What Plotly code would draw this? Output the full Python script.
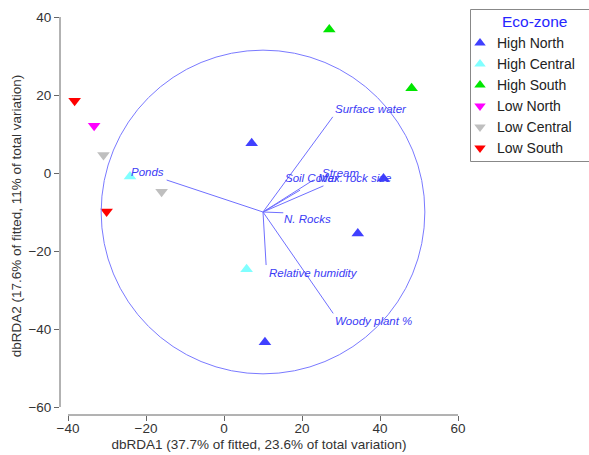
import plotly.graph_objects as go

# ---- data ----
GROUPS = ["High North", "High Central", "High South", "Low North", "Low Central", "Low South"]
GROUP_X = {
    "High North": [7.1, 40.9, 34.3, 10.5],
    "High Central": [-24.1, 5.8],
    "High South": [27.0, 48.1],
    "Low North": [-33.3],
    "Low Central": [-30.9, -16.0],
    "Low South": [-38.3, -30.1],
}
GROUP_Y = {
    "High North": [7.6, -1.4, -15.5, -43.4],
    "High Central": [-0.9, -24.7],
    "High South": [36.8, 21.7],
    "Low North": [12.1],
    "Low Central": [4.6, -4.8],
    "Low South": [18.5, -9.9],
}
GROUP_SYMBOL = {
    "High North": "triangle-up", "High Central": "triangle-up", "High South": "triangle-up",
    "Low North": "triangle-down", "Low Central": "triangle-down", "Low South": "triangle-down",
}
GROUP_COLOR = {
    "High North": "#4040ff", "High Central": "#80ffff", "High South": "#00e600",
    "Low North": "#ff00ff", "Low Central": "#bfbfbf", "Low South": "#ff0000",
}

VECTOR_ORIGIN = (10.0, -10.0)
VECTOR_NAMES = ["Surface water", "Stream", "Soil Cover", "Max. rock size", "N. Rocks",
                "Relative humidity", "Woody plant %", "Ponds"]
VECTOR_X = [27.9, 22.9, 19.5, 25.5, 15.2, 10.8, 28.0, -14.7]
VECTOR_Y = [14.4, -1.8, -4.4, -3.3, -10.2, -23.6, -36.0, -1.8]
LABEL_X = [28.0, 24.5, 15.2, 23.6, 14.9, 11.0, 28.0, -14.9]
LABEL_Y = [16.4, 0.1, -1.3, -1.3, -11.8, -25.6, -37.9, 0.3]
LABEL_ANCHOR = ["left", "left", "left", "left", "left", "left", "left", "right"]

CIRCLE_RADIUS = 41.5

X_TICKS = [-40, -20, 0, 20, 40, 60]
Y_TICKS = [-60, -40, -20, 0, 20, 40]
X_TITLE = "dbRDA1 (37.7% of fitted, 23.6% of total variation)"
Y_TITLE = "dbRDA2 (17.6% of fitted, 11% of total variation)"
LEGEND_TITLE = "Eco-zone"

FONT = "Arial, Liberation Sans, sans-serif"
VEC_COLOR = "#6f6fff"
TXT_BLUE = "#3b3bf5"
AX_COLOR = "#666666"

# ---- layout geometry (pixels) ----
W, H = 589, 455
ML, MB = 60, 40
PLOT_W = W - ML
PLOT_H = H - MB
MAIN_W, MAIN_H = 398, 398
LEG_LEFT, LEG_TOP, LEG_BOTTOM = 470.5, 9.5, 161.5
LEG_ROW0, LEG_ROW_GAP = 43, 21
LEG_MARK_X, LEG_TEXT_X = 480, 495

fig = go.Figure()

# vectors
vx, vy = [], []
for ex, ey in zip(VECTOR_X, VECTOR_Y):
    vx += [VECTOR_ORIGIN[0], ex, None]
    vy += [VECTOR_ORIGIN[1], ey, None]
fig.add_trace(go.Scatter(x=vx, y=vy, mode="lines", line=dict(color=VEC_COLOR, width=1),
                         showlegend=False, hoverinfo="skip"))

# points
for g in GROUPS:
    fig.add_trace(go.Scatter(
        x=GROUP_X[g], y=GROUP_Y[g], mode="markers", name=g, showlegend=False,
        marker=dict(symbol=GROUP_SYMBOL[g], color=GROUP_COLOR[g], size=11, line=dict(width=0)),
        cliponaxis=False,
    ))

# circle
fig.add_shape(type="circle", xref="x", yref="y",
              x0=VECTOR_ORIGIN[0] - CIRCLE_RADIUS, x1=VECTOR_ORIGIN[0] + CIRCLE_RADIUS,
              y0=VECTOR_ORIGIN[1] - CIRCLE_RADIUS, y1=VECTOR_ORIGIN[1] + CIRCLE_RADIUS,
              line=dict(color="#7a7aff", width=1))

# vector labels
for name, lx, ly, anc in zip(VECTOR_NAMES, LABEL_X, LABEL_Y, LABEL_ANCHOR):
    fig.add_annotation(x=lx, y=ly, text="<i>%s</i>" % name, showarrow=False,
                       xanchor=anc, yanchor="middle",
                       font=dict(family=FONT, size=11.5, color=TXT_BLUE))

# detached axis lines
fig.add_shape(type="line", xref="x", yref="paper", x0=X_TICKS[0], x1=X_TICKS[-1], y0=0, y1=0,
              line=dict(color=AX_COLOR, width=1))
fig.add_shape(type="line", xref="x domain", yref="y", x0=0, x1=0, y0=Y_TICKS[0], y1=Y_TICKS[-1],
              line=dict(color=AX_COLOR, width=1))

# ---- legend box (pixel-space overlay axes) ----
leg_y = [LEG_ROW0 + LEG_ROW_GAP * i for i in range(len(GROUPS))]
fig.add_trace(go.Scatter(
    x=[LEG_MARK_X] * len(GROUPS), y=leg_y, mode="markers", xaxis="x2", yaxis="y2",
    marker=dict(symbol=[GROUP_SYMBOL[g] for g in GROUPS], color=[GROUP_COLOR[g] for g in GROUPS],
                size=10, line=dict(width=0)),
    showlegend=False, hoverinfo="skip", cliponaxis=True,
))
for g, yy in zip(GROUPS, leg_y):
    fig.add_annotation(x=LEG_TEXT_X, y=yy, xref="x2", yref="y2", text=g, showarrow=False,
                       xanchor="left", yanchor="middle",
                       font=dict(family=FONT, size=14, color="#222222"))
fig.add_annotation(x=534, y=21, xref="x2", yref="y2", text=LEGEND_TITLE, showarrow=False,
                   xanchor="center", yanchor="middle",
                   font=dict(family=FONT, size=15.5, color="#2626ff"))
fig.add_shape(type="rect", xref="x2", yref="y2", x0=LEG_LEFT, x1=W + 20, y0=LEG_TOP, y1=LEG_BOTTOM,
              line=dict(color="#888888", width=1), fillcolor="rgba(0,0,0,0)")

fig.update_layout(
    xaxis=dict(domain=[0, MAIN_W / PLOT_W], range=[-42.05, 60.0], tickvals=X_TICKS, ticks="outside",
               ticklen=5, tickcolor=AX_COLOR, showline=False, showgrid=False, zeroline=False,
               ticklabelstandoff=-4,
               tickfont=dict(family=FONT, size=13.5, color="#333333"),
               title=dict(text=X_TITLE, font=dict(family=FONT, size=13.5, color="#333333"), standoff=4)),
    yaxis=dict(domain=[0, MAIN_H / PLOT_H], range=[-62.05, 40.0], tickvals=Y_TICKS, ticks="outside",
               ticklen=5, tickcolor=AX_COLOR, showline=False, showgrid=False, zeroline=False,
               tickfont=dict(family=FONT, size=13.5, color="#333333"),
               title=dict(text=Y_TITLE, font=dict(family=FONT, size=13.5, color="#333333"), standoff=3)),
    xaxis2=dict(domain=[(LEG_LEFT - 6 - ML) / PLOT_W, 1], range=[LEG_LEFT - 6, W], anchor="y2",
                visible=False, fixedrange=True),
    yaxis2=dict(domain=[0, 1], range=[PLOT_H, 0], anchor="x2", visible=False, fixedrange=True),
    width=W, height=H,
    margin=dict(l=ML, r=0, t=0, b=MB, autoexpand=False),
    paper_bgcolor="white", plot_bgcolor="white",
    showlegend=False,
)

fig.write_html("out.html", config={"displayModeBar": False},
               post_script="document.body.style.margin='0';")
